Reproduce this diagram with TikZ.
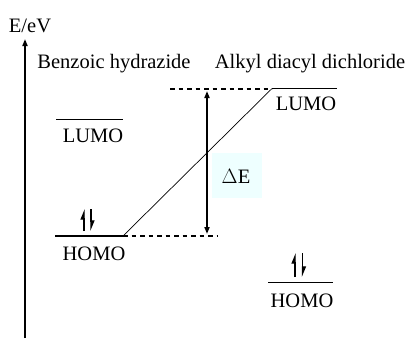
\documentclass[tikz,border=0pt]{standalone}
\usepackage{fontspec}
\setmainfont{Liberation Serif}
\usetikzlibrary{arrows.meta}
\definecolor{boxcyan}{HTML}{EEFFFF}
\tikzset{
  lbl/.style={anchor=base, inner sep=0pt, font=\fontsize{20.5}{22}\selectfont},
  level/.style={line width=1.5pt},
  dashlvl/.style={line width=2pt, dash pattern=on 4.5pt off 4pt},
  elec/.style={line width=1.3pt},
}
\begin{document}
\begin{tikzpicture}[x=1pt,y=-1pt]
\useasboundingbox (0,0) rectangle (411,338);
% axis
\coordinate (axb) at (25,338);
\coordinate (axt) at (25,39);
\draw[line width=2.8pt, -{Triangle[length=7pt,width=5pt]}] (axb) -- (axt);
\node[lbl] (ev) at (30,32) {E/eV};
% titles
\node[lbl] (t1) at (114,68) {Benzoic hydrazide};
\node[lbl] (t2) at (310,68) {Alkyl diacyl dichloride};
% left levels
\coordinate (l1a) at (56,119.5); \coordinate (l1b) at (123,119.5);
\draw[level] (l1a) -- (l1b);
\node[lbl] (lumo1) at (93,142) {LUMO};
\coordinate (h1a) at (55,236); \coordinate (h1b) at (123,236);
\draw[level] (h1a) -- (h1b);
\node[lbl] (homo1) at (94,260) {HOMO};
% right levels
\coordinate (l2a) at (272,88.5); \coordinate (l2b) at (337,88.5);
\draw[level] (l2a) -- (l2b);
\node[lbl] (lumo2) at (306,110) {LUMO};
\coordinate (h2a) at (268,282.5); \coordinate (h2b) at (333,282.5);
\draw[level] (h2a) -- (h2b);
\node[lbl] (homo2) at (302,307) {HOMO};
% dashed lines
\coordinate (dt) at (170,88.5);
\draw[dashlvl] (dt) -- (l2a);
\coordinate (db) at (218,236);
\draw[dashlvl] (h1b) -- (db);
% diagonal
\draw[line width=0.7pt] (h1b) -- (l2a);
% delta E box
\node[fill=boxcyan, minimum width=50pt, minimum height=45pt, inner sep=0pt] (box) at (237,175.5) {};
\node[lbl] (de) at (236,183) {$\Delta$E};
% double arrow
\coordinate (da) at (207,91); \coordinate (dbb) at (207,234);
\draw[line width=2.8pt, {Triangle[length=7pt,width=5pt]}-{Triangle[length=7pt,width=5pt]}] (da) -- (dbb);
% electrons left
\coordinate (e1a) at (84,231); \coordinate (e1b) at (84,209);
\coordinate (e2a) at (91,209); \coordinate (e2b) at (91,231);
\draw[elec, -{Triangle[harpoon,length=9pt,width=7pt]}] (e1a) -- (e1b);
\draw[elec, -{Triangle[harpoon,length=9pt,width=7pt]}] (e2a) -- (e2b);
% electrons right
\coordinate (e3a) at (295,277); \coordinate (e3b) at (295,253);
\coordinate (e4a) at (302.5,253); \coordinate (e4b) at (302.5,277);
\draw[elec, -{Triangle[harpoon,length=9pt,width=7pt]}] (e3a) -- (e3b);
\draw[elec, -{Triangle[harpoon,length=9pt,width=7pt]}] (e4a) -- (e4b);
\end{tikzpicture}
\end{document}
